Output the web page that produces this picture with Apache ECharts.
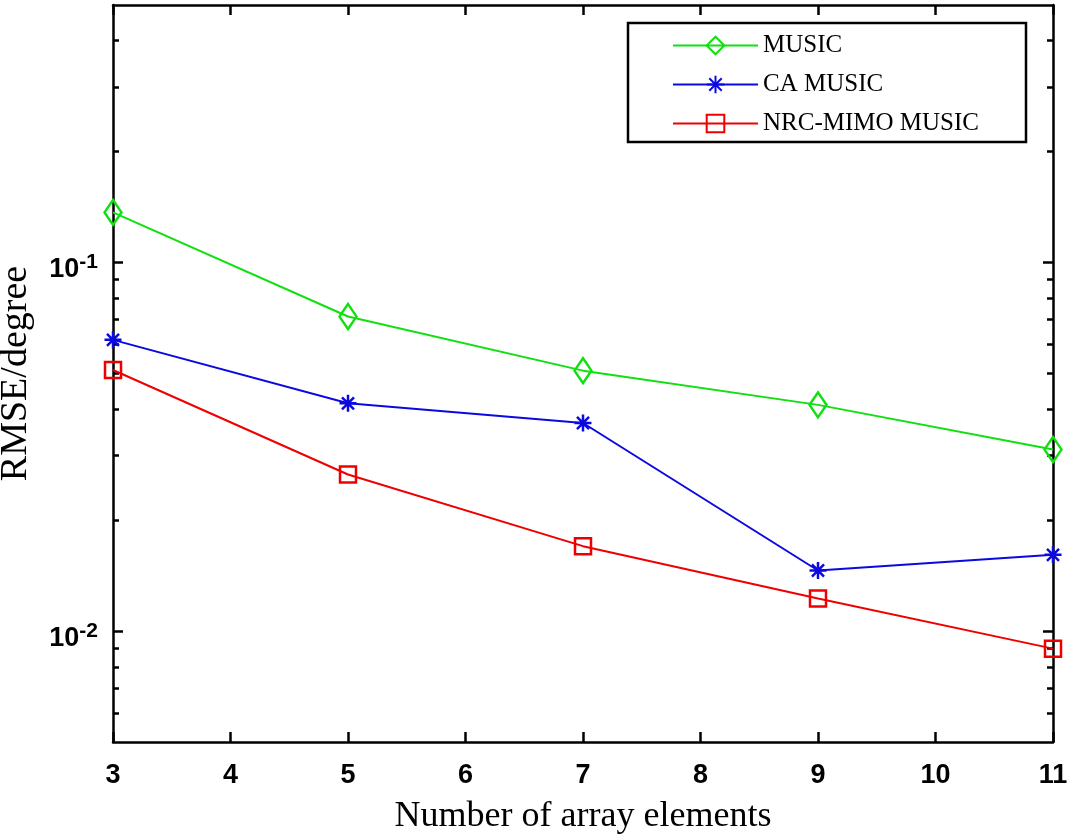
<!DOCTYPE html>
<html><head><meta charset="utf-8">
<script src="https://cdn.jsdelivr.net/npm/echarts@6/dist/echarts.min.js"></script>
<style>html,body{margin:0;padding:0;background:#fff}#c{width:1073px;height:836px}</style>
</head><body><div id="c"></div>
<script>
const xValues = [3, 5, 7, 9, 11];
const musicRmse = [0.1368, 0.0714, 0.0509, 0.0411, 0.0311];
const caMusicRmse = [0.0617, 0.0415, 0.0367, 0.0146, 0.0161];
const nrcMimoRmse = [0.0511, 0.0266, 0.0170, 0.01225, 0.00896];
const seriesNames = ['MUSIC', 'CA MUSIC', 'NRC-MIMO MUSIC'];
const yMajorTicks = [0.01, 0.1];
const yMinorTicks = [0.006, 0.007, 0.008, 0.009, 0.02, 0.03, 0.04, 0.05, 0.06, 0.07, 0.08, 0.09, 0.2, 0.3, 0.4];
const xMin = 3, xMax = 11, yMin = 0.005, yMax = 0.5;

const AX = '#000';
const LW = 2.5;
const sansFont = 'Liberation Sans';
const serifFont = 'Liberation Serif';

function pairs(vals) { return xValues.map((x, i) => [x, vals[i]]); }

function yAxisDef(pos, ticks, len, showLine, withLabel) {
  const a = {
    type: 'log', logBase: 10, min: yMin, max: yMax, position: pos, gridIndex: 0,
    axisLine: { show: showLine, lineStyle: { color: AX, width: LW } },
    axisTick: { show: true, inside: true, length: len, customValues: ticks, lineStyle: { color: AX, width: LW } },
    axisLabel: { show: false },
    splitLine: { show: false }, minorTick: { show: false }, minorSplitLine: { show: false }
  };
  if (withLabel) {
    a.axisLabel = {
      show: true, customValues: yMajorTicks, margin: 15,
      formatter: v => '{b|10}{s|' + Math.round(Math.log10(v)) + '}',
      padding: [14, 0, 0, 0],
      rich: {
        b: { fontFamily: sansFont, fontWeight: 'bold', fontSize: 27, lineHeight: 27, color: '#000', verticalAlign: 'bottom' },
        s: { fontFamily: sansFont, fontWeight: 'bold', fontSize: 21, lineHeight: 21, color: '#000', verticalAlign: 'bottom', padding: [0, 0, 10, 0] }
      }
    };
    a.name = 'RMSE/degree';
    a.nameLocation = 'middle';
    a.nameGap = 78;
    a.nameTextStyle = { fontFamily: serifFont, fontSize: 38, color: '#000' };
  }
  return a;
}

function xAxisDef(pos, withLabel) {
  const a = {
    type: 'value', min: xMin, max: xMax, interval: 1, position: pos, gridIndex: 0,
    axisLine: { show: true, onZero: false, lineStyle: { color: AX, width: LW } },
    axisTick: { show: true, inside: true, length: 10, lineStyle: { color: AX, width: LW } },
    axisLabel: { show: withLabel, margin: 20, fontFamily: sansFont, fontWeight: 'bold', fontSize: 27, color: '#000' },
    splitLine: { show: false }
  };
  if (withLabel) {
    a.name = 'Number of array elements';
    a.nameLocation = 'middle';
    a.nameGap = 57;
    a.nameTextStyle = { fontFamily: serifFont, fontSize: 36, color: '#000' };
  }
  return a;
}

const green = '#10e010', blue = '#0a0ae0', red = '#ee0000';
const asterisk = 'path://M5,0L5,10M0,5L10,5M1.46,1.46L8.54,8.54M1.46,8.54L8.54,1.46';

function lineSeries(name, vals, color, symbol, size) {
  return {
    name, type: 'line', data: pairs(vals), xAxisIndex: 0, yAxisIndex: 0,
    symbol, symbolSize: size, showAllSymbol: true,
    lineStyle: { color, width: 2 },
    itemStyle: { color: 'rgba(0,0,0,0)', borderColor: color, borderWidth: 2.5 },
    emphasis: { disabled: true }, z: 3
  };
}

const chart = echarts.init(document.getElementById('c'), null, { renderer: 'canvas' });
chart.setOption({
  animation: false,
  backgroundColor: '#fff',
  grid: { left: 113, right: 20, top: 5, bottom: 94, containLabel: false, outerBoundsMode: 'none' },
  xAxis: [xAxisDef('bottom', true), xAxisDef('top', false)],
  yAxis: [
    yAxisDef('left', yMajorTicks, 10, true, true),
    yAxisDef('left', yMinorTicks, 6, false, false),
    yAxisDef('right', yMajorTicks, 10, true, false),
    yAxisDef('right', yMinorTicks, 6, false, false)
  ],
  legend: {
    orient: 'vertical', left: 628, top: 23,
    padding: [10, 47, 6, 44], itemGap: 14, itemWidth: 85, itemHeight: 22,
    borderColor: '#000', borderWidth: 2.5, backgroundColor: '#fff',
    textStyle: { fontFamily: serifFont, fontSize: 25, color: '#000' },
    data: seriesNames, selectedMode: false
  },
  series: [
    lineSeries(seriesNames[0], musicRmse, green, 'diamond', [17, 25]),
    lineSeries(seriesNames[1], caMusicRmse, blue, asterisk, 17),
    lineSeries(seriesNames[2], nrcMimoRmse, red, 'rect', 16)
  ]
});
</script></body></html>
